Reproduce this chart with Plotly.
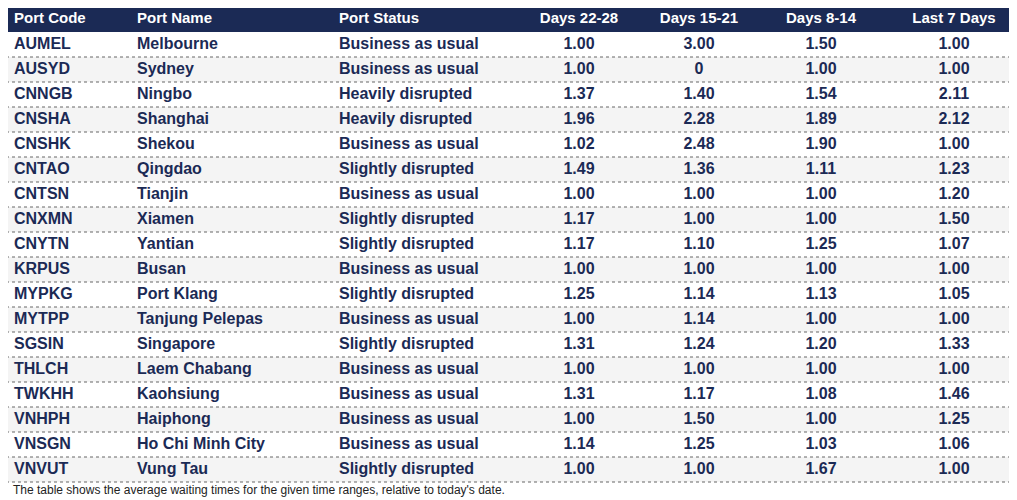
import plotly.graph_objects as go

headers = ["Port Code", "Port Name", "Port Status", "Days 22-28", "Days 15-21", "Days 8-14", "Last 7 Days"]
codes = ["AUMEL","AUSYD","CNNGB","CNSHA","CNSHK","CNTAO","CNTSN","CNXMN","CNYTN","KRPUS","MYPKG","MYTPP","SGSIN","THLCH","TWKHH","VNHPH","VNSGN","VNVUT"]
names = ["Melbourne","Sydney","Ningbo","Shanghai","Shekou","Qingdao","Tianjin","Xiamen","Yantian","Busan","Port Klang","Tanjung Pelepas","Singapore","Laem Chabang","Kaohsiung","Haiphong","Ho Chi Minh City","Vung Tau"]
status = ["Business as usual","Business as usual","Heavily disrupted","Heavily disrupted","Business as usual","Slightly disrupted","Business as usual","Slightly disrupted","Slightly disrupted","Business as usual","Slightly disrupted","Business as usual","Slightly disrupted","Business as usual","Business as usual","Business as usual","Business as usual","Slightly disrupted"]
d22_28 = ["1.00","1.00","1.37","1.96","1.02","1.49","1.00","1.17","1.17","1.00","1.25","1.00","1.31","1.00","1.31","1.00","1.14","1.00"]
d15_21 = ["3.00","0","1.40","2.28","2.48","1.36","1.00","1.00","1.10","1.00","1.14","1.14","1.24","1.00","1.17","1.50","1.25","1.00"]
d8_14 = ["1.50","1.00","1.54","1.89","1.90","1.11","1.00","1.00","1.25","1.00","1.13","1.00","1.20","1.00","1.08","1.00","1.03","1.67"]
last7 = ["1.00","1.00","2.11","2.12","1.00","1.23","1.20","1.50","1.07","1.00","1.05","1.00","1.33","1.00","1.46","1.25","1.06","1.00"]
caption = "The table shows the average waiting times for the given time ranges, relative to today's date."

W, H = 1009, 492
n = len(codes)
navy = "#1b2a55"
FONT = "Arial, Liberation Sans, sans-serif"
col_x = [-2, 121, 323, 563, 683, 805, 938]
col_pos = ["middle right"] * 3 + ["middle center"] * 4
cols = [codes, names, status, d22_28, d15_21, d8_14, last7]
rows = list(range(n))

fig = go.Figure()
for cx, pos, vals, h in zip(col_x, col_pos, cols, headers):
    fig.add_trace(go.Scatter(x=[cx] * n, y=rows, mode="text", text=[f"<b>{v}</b>" for v in vals],
                             textposition=pos, textfont=dict(family=FONT, size=16, color=navy),
                             hoverinfo="skip", showlegend=False, cliponaxis=False))
    fig.add_trace(go.Scatter(x=[cx], y=[-1], mode="text", text=[f"<b>{h}</b>"],
                             textposition=pos, textfont=dict(family=FONT, size=15, color="white"),
                             hoverinfo="skip", showlegend=False, cliponaxis=False))

shapes = [dict(type="rect", xref="x", yref="y", x0=-10, x1=W, y0=-1.47, y1=-0.5,
               fillcolor=navy, line_width=0, layer="below")]
for k in range(n):
    if k % 2 == 1:
        shapes.append(dict(type="rect", xref="x", yref="y", x0=-10, x1=W, y0=k - 0.5, y1=k + 0.5,
                           fillcolor="#f4f4f4", line_width=0, layer="below"))
for k in range(n):
    shapes.append(dict(type="line", xref="x", yref="y", x0=-10, x1=W, y0=k + 0.5, y1=k + 0.5,
                       line=dict(color="#666666", width=1, dash="dot"), layer="below"))

fig.update_layout(width=W, height=H, margin=dict(l=0, r=0, t=0, b=0),
                  paper_bgcolor="white", plot_bgcolor="white", shapes=shapes,
                  xaxis=dict(range=[-8, W - 8], visible=False, fixedrange=True),
                  yaxis=dict(range=[(H - 36.5) / 25, -36.5 / 25], visible=False, fixedrange=True),
                  annotations=[dict(text=caption, xref="x", yref="y", x=-5, y=(482 - 36.5) / 25,
                                    xanchor="left", yanchor="middle", showarrow=False,
                                    font=dict(family=FONT, size=12, color="#222"))])
fig.write_html("out.html")
